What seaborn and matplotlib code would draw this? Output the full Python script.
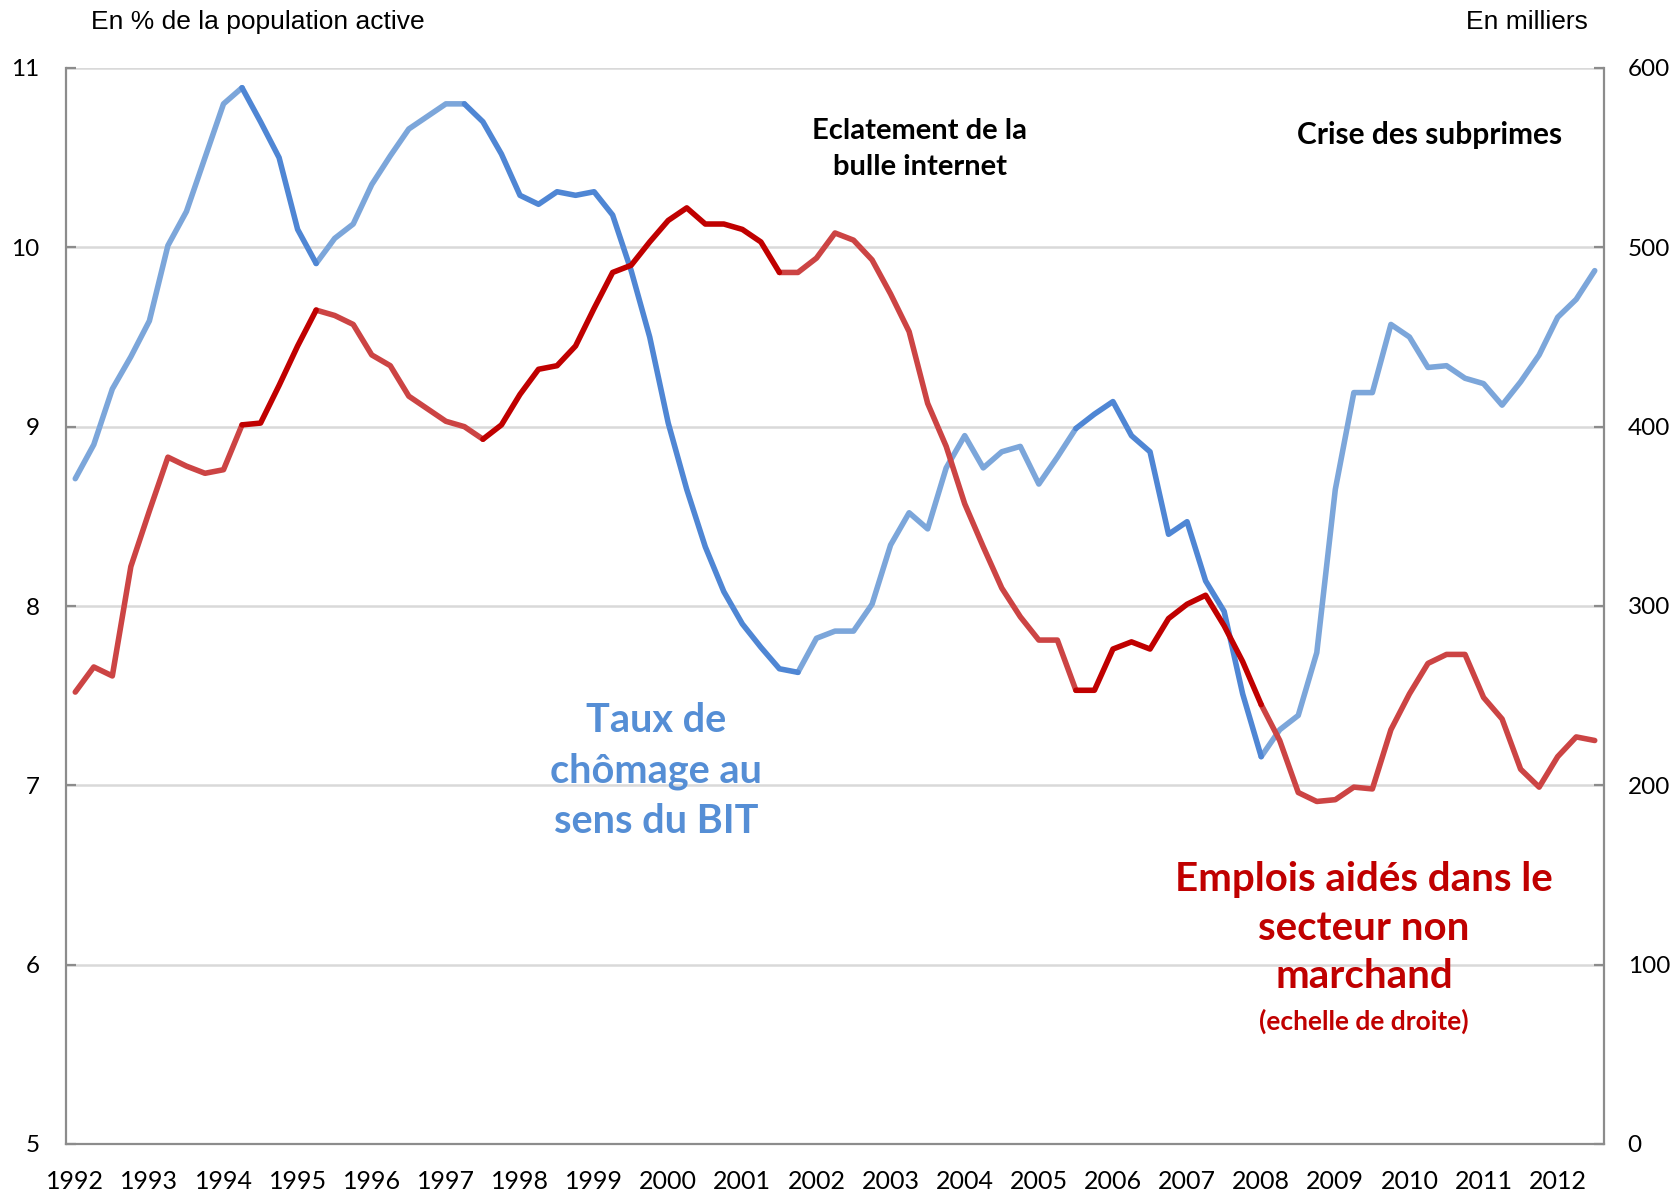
import numpy as np
import pandas as pd
import matplotlib
matplotlib.use('Agg')
import matplotlib.pyplot as plt
import seaborn as sns

# trimestres 1992T1 .. 2012T3
quarters = np.arange(83)
year_labels = [str(y) for y in range(1992, 2013)]

# taux de chomage au sens du BIT (%), echelle de gauche
chomage = [8.71, 8.90, 9.21, 9.39, 9.59, 10.01, 10.20, 10.50, 10.80, 10.89,
           10.70, 10.50, 10.10, 9.91, 10.05, 10.13, 10.35, 10.51, 10.66, 10.73,
           10.80, 10.80, 10.70, 10.52, 10.29, 10.24, 10.31, 10.29, 10.31, 10.18,
           9.87, 9.50, 9.02, 8.65, 8.33, 8.08, 7.90, 7.77, 7.65, 7.63,
           7.82, 7.86, 7.86, 8.01, 8.34, 8.52, 8.43, 8.77, 8.95, 8.77,
           8.86, 8.89, 8.68, 8.83, 8.99, 9.07, 9.14, 8.95, 8.86, 8.40,
           8.47, 8.14, 7.97, 7.51, 7.16, 7.31, 7.39, 7.74, 8.65, 9.19,
           9.19, 9.57, 9.50, 9.33, 9.34, 9.27, 9.24, 9.12, 9.25, 9.40,
           9.61, 9.71, 9.87]

# emplois aides dans le secteur non marchand (milliers), echelle de droite
emplois_aides = [252, 266, 261, 322, 353, 383, 378, 374, 376, 401,
                 402, 423, 445, 465, 462, 457, 440, 434, 417, 410,
                 403, 400, 393, 401, 418, 432, 434, 445, 466, 486,
                 490, 503, 515, 522, 513, 513, 510, 503, 486, 486,
                 494, 508, 504, 493, 474, 453, 413, 389, 357, 333,
                 310, 294, 281, 281, 253, 253, 276, 280, 276, 293,
                 301, 306, 289, 269, 245, 225, 196, 191, 192, 199,
                 198, 231, 251, 268, 273, 273, 249, 237, 209, 199,
                 216, 227, 225]

# periodes tracees en couleur foncee (indices de trimestre)
blue_dark_periods = [(9, 13), (21, 39), (54, 64)]
red_dark_periods = [(9, 13), (22, 38), (54, 64)]

BLUE_DARK, BLUE_LIGHT = '#4F86D4', '#7CA6DA'
RED_DARK, RED_LIGHT = '#C00000', '#CC4444'
GRID, AXIS = '#D9D9D9', '#8C8C8C'
LW = 4.0


def split_segments(n, dark):
    """ Returns list of (start, end, is_dark) covering 0..n-1 """
    segs = []
    pos = 0
    for a, b in dark:
        if a > pos:
            segs.append((pos, a, False))
        segs.append((a, b, True))
        pos = b
    if pos < n - 1:
        segs.append((pos, n - 1, False))
    return segs


sns.set_style('white')
plt.rcParams['font.family'] = ['Lato', 'DejaVu Sans']
plt.rcParams['text.color'] = 'black'
plt.rcParams['xtick.labelcolor'] = 'black'
plt.rcParams['ytick.labelcolor'] = 'black'

W, H = 1677, 1193
fig = plt.figure(figsize=(W / 100, H / 100), dpi=100)
ax = fig.add_axes([66 / W, 1 - 1144 / H, (1604 - 66) / W, (1144 - 68) / H])
ax2 = ax.twinx()

df = pd.DataFrame({'q': quarters, 'chomage': chomage, 'emplois': emplois_aides})

for a, b, dark in split_segments(len(df), blue_dark_periods):
    part = df.iloc[a:b + 1]
    sns.lineplot(data=part, x='q', y='chomage', ax=ax, color=BLUE_DARK if dark else BLUE_LIGHT,
                 linewidth=LW, zorder=3 if dark else 2, legend=False)
for a, b, dark in split_segments(len(df), red_dark_periods):
    part = df.iloc[a:b + 1]
    sns.lineplot(data=part, x='q', y='emplois', ax=ax2, color=RED_DARK if dark else RED_LIGHT,
                 linewidth=LW, zorder=3 if dark else 2, legend=False)

ax.set_xlim(-0.5, 82.5)
ax.set_ylim(5, 11)
ax2.set_ylim(0, 600)
ax.set_yticks(range(5, 12))
ax2.set_yticks(range(0, 601, 100))
ax.set_xticks(np.arange(0, 83, 4))
ax.set_xticklabels(year_labels)
ax.set_xticks(np.arange(-0.5, 83, 1), minor=True)
ax.set_xlabel('')
ax.set_ylabel('')
ax2.set_ylabel('')

ax.yaxis.grid(True, color=GRID, linewidth=1.8)
ax.xaxis.grid(False)
ax.set_axisbelow(True)

ax.tick_params(axis='x', which='major', length=0, pad=19, labelsize=18, labelcolor='black')
ax.tick_params(axis='x', which='minor', direction='in', length=6, width=1.3, color=AXIS)
ax.tick_params(axis='y', direction='in', length=7, width=1.6, color=AXIS, pad=19, labelsize=17.5,
               labelcolor='black')
ax2.tick_params(axis='y', direction='in', length=7, width=1.6, color=AXIS, pad=17, labelsize=17.5,
                labelcolor='black')

for s in ['top', 'right']:
    ax.spines[s].set_visible(False)
for s in ['top', 'left', 'bottom']:
    ax2.spines[s].set_visible(False)
for sp in [ax.spines['left'], ax.spines['bottom'], ax2.spines['right']]:
    sp.set_color(AXIS)
    sp.set_linewidth(1.6)

fig.text(91 / W, 1 - 22 / H, 'En % de la population active', ha='left', va='center',
         fontsize=19, family='Liberation Sans', color='black')
fig.text(1588 / W, 1 - 22 / H, 'En milliers', ha='right', va='center',
         fontsize=19, family='Liberation Sans', color='black')

fig.text(920 / W, 1 - 149 / H, 'Eclatement de la\nbulle internet', ha='center', va='center',
         fontsize=21, weight='bold', linespacing=1.5, color='black')
fig.text(1430 / W, 1 - 135 / H, 'Crise des subprimes', ha='center', va='center',
         fontsize=21.5, weight='bold', color='black')

fig.text(656 / W, 1 - 771 / H, 'Taux de\nchômage au\nsens du BIT', ha='center', va='center',
         fontsize=28.5, weight='bold', color='#558ED5', linespacing=1.45)
fig.text(1364 / W, 1 - 928 / H, 'Emplois aidés dans le\nsecteur non\nmarchand', ha='center', va='center',
         fontsize=29, weight='bold', color=RED_DARK, linespacing=1.4)
fig.text(1364 / W, 1 - 1021 / H, '(echelle de droite)', ha='center', va='center',
         fontsize=19, weight='bold', color=RED_DARK)

fig.savefig('out.png', dpi=100)
